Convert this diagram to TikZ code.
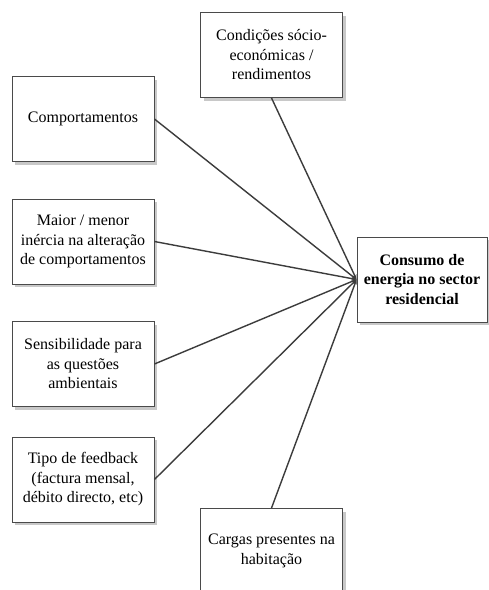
\documentclass[tikz,border=0pt]{standalone}
\usepackage{fontspec}
\setmainfont{Liberation Serif}
\usetikzlibrary{shadows,arrows.meta}
\definecolor{edgegrey}{HTML}{3C3C3C}
\definecolor{boxline}{HTML}{4A4A4A}
\definecolor{shade}{HTML}{C8C8C8}
\begin{document}
\begin{tikzpicture}[x=1pt,y=-1pt,
  factor/.style={draw=boxline, line width=0.9pt, fill=white, minimum width=142pt,
    minimum height=85pt, align=center, font=\fontsize{16}{19.5}\selectfont,
    inner sep=2pt,
    drop shadow={fill=shade, opacity=1, shadow xshift=3pt, shadow yshift=-3pt}},
  target/.style={factor, minimum width=130pt, font=\fontsize{16}{19.5}\selectfont\bfseries},
  link/.style={draw=edgegrey, line width=1.4pt, -{Stealth[length=5pt,width=4pt]}}]
\useasboundingbox (0,0) rectangle (489,590);
\fill[white] (0,0) rectangle (489,590);

\node[target] (cons) at (422,279.5) {Consumo de\\energia no sector\\residencial};
\node[factor] (socio) at (271.5,55) {Condições sócio-\\económicas /\\rendimentos};
\node[factor] (comp) at (83,119) {Comportamentos};
\node[factor] (iner) at (83,241.5) {Maior / menor\\inércia na alteração\\de comportamentos};
\node[factor] (amb) at (83,364) {Sensibilidade para\\as questões\\ambientais};
\node[factor] (feed) at (83,479.5) {Tipo de feedback\\(factura mensal,\\débito directo, etc)};
\node[factor] (carg) at (271.5,551) {Cargas presentes na\\habitação};

\coordinate (hub) at (cons.west);
\draw[link] (socio.south) -- (hub);
\draw[link] (comp.east) -- (hub);
\draw[link] (iner.east) -- (hub);
\draw[link] (amb.east) -- (hub);
\draw[link] (feed.east) -- (hub);
\draw[link] (carg.north) -- (hub);
\end{tikzpicture}
\end{document}
